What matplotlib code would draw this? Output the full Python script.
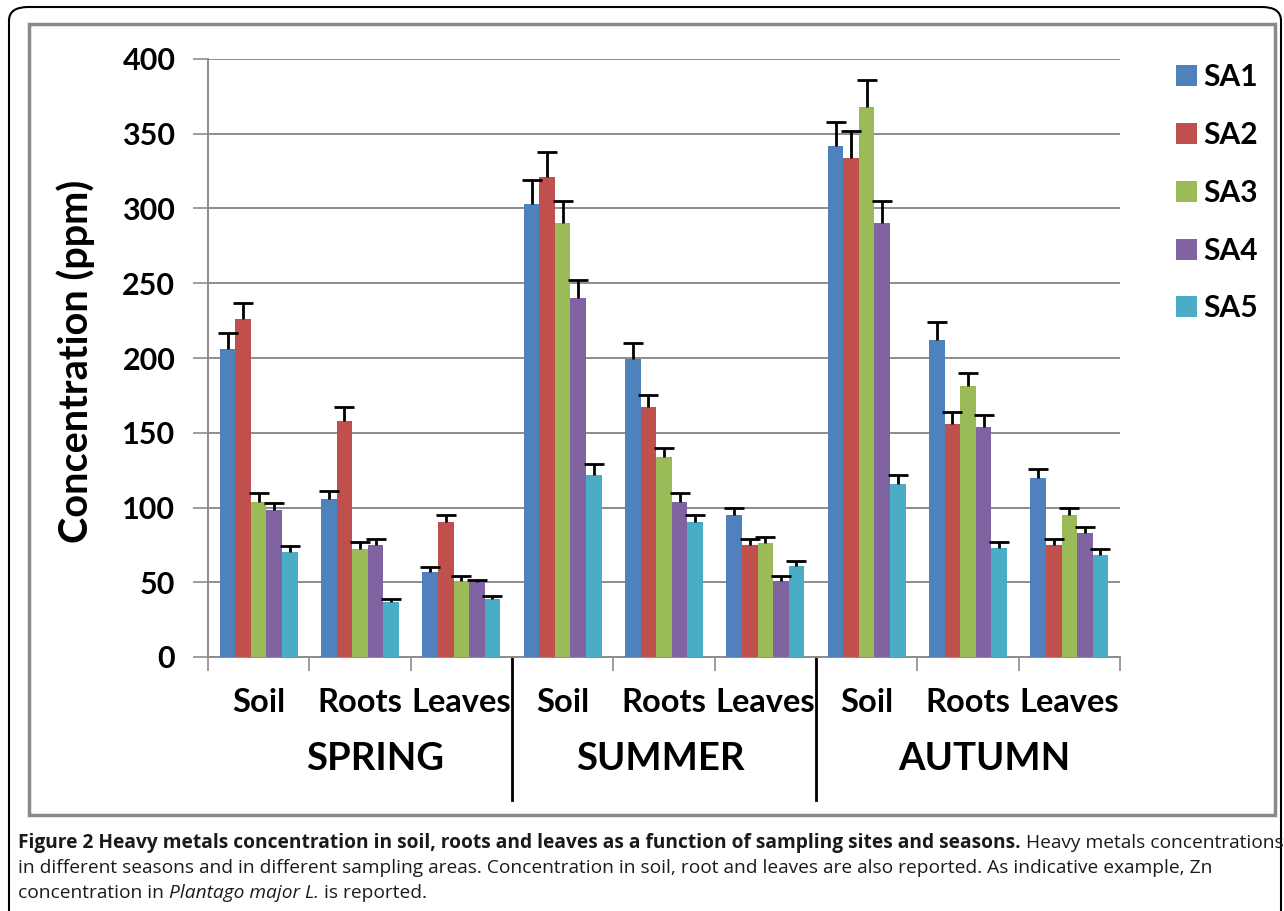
import matplotlib
matplotlib.use("Agg")
import matplotlib.pyplot as plt
import matplotlib.transforms as mtransforms
from matplotlib.patches import FancyBboxPatch, Rectangle
import numpy as np

# Zn concentration (ppm)
categories = ["Soil", "Roots", "Leaves"] * 3
seasons = ["SPRING", "SUMMER", "AUTUMN"]
series = ["SA1", "SA2", "SA3", "SA4", "SA5"]
colors = ["#4F81BD", "#C0504D", "#9BBB59", "#8064A2", "#4BACC6"]

sa1 = [206, 106, 57, 303, 199, 95, 342, 212, 120]
sa2 = [226, 158, 90, 321, 167, 75, 334, 156, 75]
sa3 = [104, 72, 51, 290, 134, 76, 368, 181, 95]
sa4 = [98, 75, 50, 240, 104, 51, 290, 154, 83]
sa5 = [70, 37, 39, 122, 90, 61, 116, 73, 68]

sa1_err = [11, 5, 3, 16, 11, 5, 16, 12, 6]
sa2_err = [11, 9, 5, 17, 8, 4, 18, 8, 4]
sa3_err = [6, 5, 3, 15, 6, 4, 18, 9, 5]
sa4_err = [5, 4, 1.5, 12, 6, 3, 15, 8, 4]
sa5_err = [4, 2, 2, 7, 5, 3, 6, 4, 4]

values = [sa1, sa2, sa3, sa4, sa5]
errors = [sa1_err, sa2_err, sa3_err, sa4_err, sa5_err]

FONT = ["Lato", "DejaVu Sans"]
plt.rcParams["font.family"] = FONT

W, H = 1284, 911
fig = plt.figure(figsize=(W / 100, H / 100), dpi=100)


def fx(px):
    return px / W


def fy(py):
    return 1 - py / H


ax_l, ax_r = fx(208), fx(1120)
ax = fig.add_axes([ax_l, fy(657), ax_r - ax_l, fy(59) - fy(657)])

x = np.arange(len(categories))
bw = 0.1535
for i, (vals, errs) in enumerate(zip(values, errors)):
    pos = x + (i - 2) * bw
    ax.bar(pos, vals, bw, color=colors[i], label=series[i], zorder=3)
    eb = ax.errorbar(pos, vals, yerr=[np.zeros(len(errs)), errs], fmt="none",
                     ecolor="black", elinewidth=2, capsize=7.5, capthick=2,
                     zorder=4)
    # only the upper cap, like the original
    eb[1][0].set_visible(False)

ax.set_xlim(-0.5, len(categories) - 0.5)
ax.set_ylim(0, 400)
ax.set_yticks(range(0, 401, 50))
ax.yaxis.grid(True, color="#8c8c8c", linewidth=1.4, zorder=0)
ax.tick_params(axis="y", length=11, width=1.2, color="#8c8c8c", pad=12.5,
               labelsize=22)
for lab in ax.get_yticklabels():
    lab.set_fontweight("bold")

# category boundaries as major ticks, names as minor ticks
ax.set_xticks(np.arange(-0.5, len(categories), 1.0))
ax.set_xticklabels([])
ax.tick_params(axis="x", which="major", length=10, width=1.2, color="#8c8c8c")
ax.set_xticks(x, minor=True)
ax.set_xticklabels(categories, minor=True, fontsize=23.5, fontweight="bold")
ax.tick_params(axis="x", which="minor", length=0, pad=22)

for s in ["top", "right"]:
    ax.spines[s].set_visible(False)
for s in ["left", "bottom"]:
    ax.spines[s].set_color("#8c8c8c")
    ax.spines[s].set_linewidth(1.4)

ax.set_ylabel("Concentration (ppm)", fontsize=28.5, fontweight="bold")
ax.yaxis.set_label_coords((fx(95) - ax_l) / (ax_r - ax_l), (657 - 361) / 598)

# season labels and separators
btr = mtransforms.blended_transform_factory(ax.transData, fig.transFigure)
nudge = [15, -4, 16]  # px, the original's labels sit a little off-centre
for k, name in enumerate(seasons):
    t = ax.text(3 * k + 1, fy(770), name, transform=btr, ha="center",
                va="baseline", fontsize=27.5, fontweight="bold")
    t.set_transform(btr + mtransforms.ScaledTranslation(nudge[k] / 100, 0,
                                                         fig.dpi_scale_trans))
for sep in [2.5, 5.5]:
    ax.plot([sep, sep], [fy(657), fy(800)], transform=btr, color="black",
            linewidth=2, clip_on=False)

leg = ax.legend(loc="upper left", bbox_to_anchor=(fx(1161), fy(48)),
                bbox_transform=fig.transFigure, frameon=False,
                prop={"family": FONT, "weight": "bold", "size": 21.5},
                handlelength=0.7, handleheight=0.7, handletextpad=0.2,
                labelspacing=1.0, borderpad=0)

# frames
fig.patches.append(Rectangle((fx(29), fy(815)), fx(1275) - fx(29),
                             fy(24) - fy(815), transform=fig.transFigure,
                             fill=False, edgecolor="#8a8a8a", linewidth=2.5))
fig.patches.append(FancyBboxPatch((fx(9), fy(960)), fx(1281) - fx(9),
                                  fy(7) - fy(960),
                                  boxstyle="round,pad=0,rounding_size=0.015",
                                  transform=fig.transFigure, fill=False,
                                  edgecolor="black", linewidth=1.5))

# caption
CAP = ["Open Sans", "DejaVu Sans"]
caption_lines = [
    [("Figure 2 Heavy metals concentration in soil, roots and leaves as a function of sampling sites and seasons.", "bold", "normal"),
     (" Heavy metals concentrations", "normal", "normal")],
    [("in different seasons and in different sampling areas. Concentration in soil, root and leaves are also reported. As indicative example, Zn", "normal", "normal")],
    [("concentration in ", "normal", "normal"), ("Plantago major L.", "normal", "italic"),
     (" is reported.", "normal", "normal")],
]
caption_y = [848, 873, 898]
renderer = fig.canvas.get_renderer()


def write_caption(size):
    texts, widths = [], []
    for segs, yy in zip(caption_lines, caption_y):
        xpos = 18
        for txt, wt, st in segs:
            t = fig.text(fx(xpos), fy(yy), txt, fontsize=size, fontweight=wt,
                         fontstyle=st, family=CAP, color="#1a1a1a",
                         va="baseline", ha="left")
            xpos += t.get_window_extent(renderer).width
            texts.append(t)
        widths.append(xpos - 18)
    return texts, widths


texts, widths = write_caption(12)
for t in texts:
    t.remove()
write_caption(12 * 1258 / widths[0])

fig.savefig("out.png", dpi=100)
